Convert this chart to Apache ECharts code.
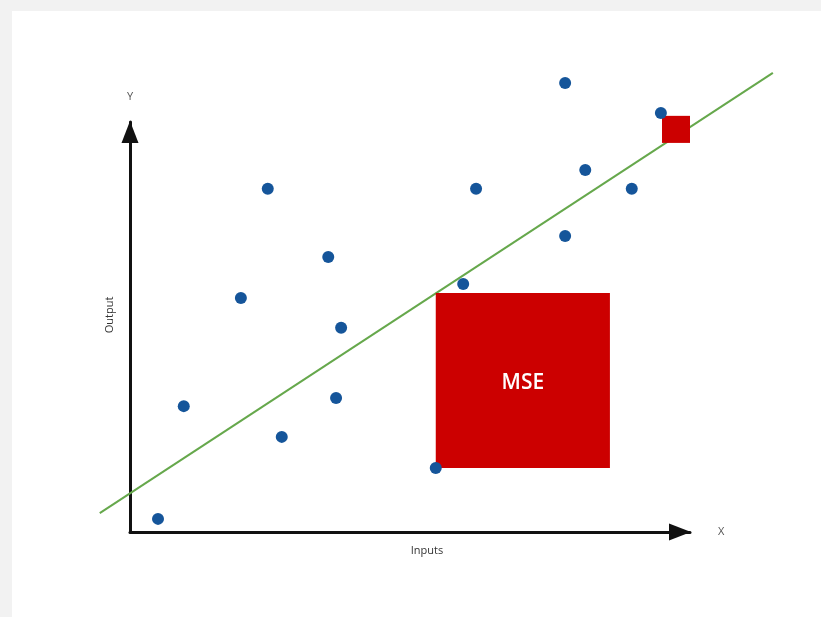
<!DOCTYPE html>
<html>
<head>
<meta charset="utf-8">
<script src="https://cdn.jsdelivr.net/npm/echarts@6/dist/echarts.min.js"></script>
<style>
html,body{margin:0;padding:0;background:#f2f2f2;}
#chart{width:821px;height:617px;}
</style>
</head>
<body>
<div id="chart"></div>
<script>
// Scatter observations (inputs, outputs)
const pointX = [0.50, 0.96, 1.98, 2.46, 2.71, 3.54, 3.77, 3.68, 5.46, 5.95, 6.18, 7.77, 8.13, 7.77, 8.96, 9.48];
const pointY = [0.32, 3.07, 5.71, 8.37, 2.32, 6.71, 4.98, 3.27, 1.56, 6.05, 8.37, 10.95, 8.83, 7.22, 8.37, 10.22];
// Fitted regression line endpoints
const lineX = [-0.54, 11.48];
const lineY = [0.46, 11.20];
// Squared-error squares: [x0, y0, x1, y1]
const squareX0 = [5.46, 9.50];
const squareY0 = [5.83, 10.15];
const squareX1 = [8.57, 10.00];
const squareY1 = [1.56, 9.49];
const squareLabels = ['MSE', ''];
// Axis names
const xName = 'X', yName = 'Y', xTitle = 'Inputs', yTitle = 'Output';

const chart = echarts.init(document.getElementById('chart'), null, {renderer: 'canvas'});
const fontFam = '"Open Sans", "Noto Sans", sans-serif';

const axisCommon = {
  type: 'value', min: 0, max: 10,
  axisTick: {show: false}, axisLabel: {show: false}, splitLine: {show: false},
  axisLine: {show: true, onZero: false, symbol: ['none', 'triangle'], symbolSize: [17, 22], symbolOffset: [0, -10],
    lineStyle: {color: '#111', width: 3}},
  nameTextStyle: {color: '#555', fontSize: 11, fontFamily: fontFam}
};

chart.setOption({
  backgroundColor: '#f2f2f2',
  animation: false,
  graphic: [
    {type: 'rect', z: -100, shape: {x: 12, y: 11, width: 821, height: 617}, style: {fill: '#ffffff'}, silent: true},
    {type: 'text', x: 427, y: 551, style: {text: xTitle, fill: '#333', fontSize: 11, fontFamily: fontFam, align: 'center', verticalAlign: 'middle'}},
    {type: 'text', x: 110, y: 315, rotation: Math.PI / 2, style: {text: yTitle, fill: '#333', fontSize: 11, fontFamily: fontFam, align: 'center', verticalAlign: 'middle'}}
  ],
  grid: {left: 130, right: 131, top: 122, bottom: 85, containLabel: false},
  xAxis: Object.assign({}, axisCommon, {name: xName, nameLocation: 'end', nameGap: 28}),
  yAxis: Object.assign({}, axisCommon, {name: yName, nameLocation: 'end', nameGap: 20}),
  series: [
    {
      type: 'custom', z: 1, clip: false, silent: true,
      data: [[lineX[0], lineY[0], lineX[1], lineY[1]]],
      renderItem: function (params, api) {
        const p0 = api.coord([api.value(0), api.value(1)]);
        const p1 = api.coord([api.value(2), api.value(3)]);
        return {
          type: 'line',
          shape: {x1: p0[0], y1: p0[1], x2: p1[0], y2: p1[1]},
          style: {stroke: '#66a84c', lineWidth: 2}
        };
      }
    },
    {
      type: 'custom', z: 2, clip: false, silent: true,
      data: squareX0.map((x, i) => [x, squareY0[i], squareX1[i], squareY1[i]]),
      renderItem: function (params, api) {
        const p0 = api.coord([api.value(0), api.value(1)]);
        const p1 = api.coord([api.value(2), api.value(3)]);
        return {
          type: 'rect',
          shape: {x: Math.min(p0[0], p1[0]), y: Math.min(p0[1], p1[1]), width: Math.abs(p1[0] - p0[0]), height: Math.abs(p1[1] - p0[1])},
          style: {fill: '#cc0000'},
          textContent: {style: {text: squareLabels[params.dataIndex], fill: '#ffffff', fontSize: 21, fontWeight: 600, fontFamily: fontFam}},
          textConfig: {position: 'inside', offset: [0, 3]}
        };
      }
    },
    {
      type: 'scatter', z: 3, clip: false, silent: true,
      data: pointX.map((x, i) => [x, pointY[i]]),
      symbolSize: 12,
      itemStyle: {color: '#15559a', opacity: 1}
    }
  ]
});
</script>
</body>
</html>
